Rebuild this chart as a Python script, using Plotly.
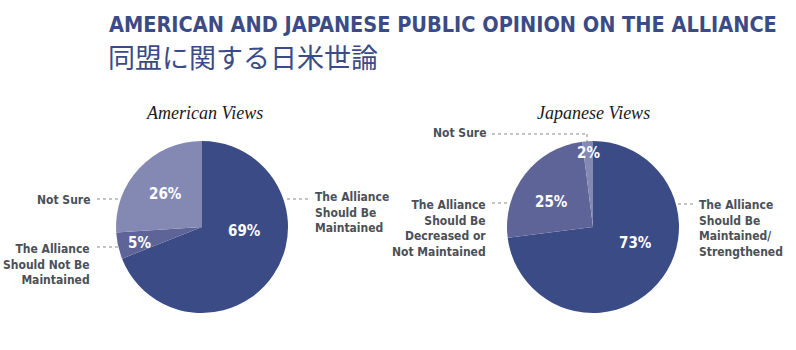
import plotly.graph_objects as go

# Survey results (percent)
us_labels = ["The Alliance Should Be Maintained", "The Alliance Should Not Be Maintained", "Not Sure"]
us_values = [69, 5, 26]
jp_labels = ["The Alliance Should Be Maintained/Strengthened",
             "The Alliance Should Be Decreased or Not Maintained", "Not Sure"]
jp_values = [73, 25, 2]

W, H = 796, 350
DARK = "#3a4b86"
MID = "#5e6497"
LIGHT = "#8489b3"
GRAY = "#4b5057"
LEAD = "#8a8a8a"
COND = "DejaVu Sans Condensed, Roboto Condensed, Liberation Sans Narrow, Roboto, sans-serif"


def px(x):
    return x / W


def py(y):
    return 1 - y / H


fig = go.Figure()

fig.add_trace(go.Pie(
    labels=us_labels, values=us_values, sort=False, direction="clockwise", rotation=0,
    marker=dict(colors=[DARK, MID, LIGHT], line=dict(width=0)),
    textinfo="none", hoverinfo="label+percent", showlegend=False,
    domain=dict(x=[px(116), px(288)], y=[py(313), py(141)]),
))
fig.add_trace(go.Pie(
    labels=jp_labels, values=jp_values, sort=False, direction="clockwise", rotation=0,
    marker=dict(colors=[DARK, MID, LIGHT], line=dict(width=0)),
    textinfo="none", hoverinfo="label+percent", showlegend=False,
    domain=dict(x=[px(507), px(679)], y=[py(313), py(141)]),
))

ann = []


def text(x, y, s, size, color, family, xanchor="center", bold=True, italic=False):
    if bold:
        s = f"<b>{s}</b>"
    if italic:
        s = f"<i>{s}</i>"
    ann.append(dict(x=px(x), y=py(y), xref="paper", yref="paper", text=s, showarrow=False,
                    xanchor=xanchor, yanchor="middle", align=xanchor if xanchor != "center" else "center",
                    font=dict(size=size, color=color, family=family)))


# Headline
text(107, 24, "AMERICAN AND JAPANESE PUBLIC OPINION ON THE ALLIANCE", 21.5, DARK, COND, xanchor="left")
text(106, 57, "同盟に関する日米世論", 27, DARK, "Noto Sans CJK JP", xanchor="left", bold=False)

# Pie subtitles
text(204, 113, "American Views", 18, "#1a1a1a", "Liberation Serif", bold=False, italic=True)
text(593, 113, "Japanese Views", 18, "#1a1a1a", "Liberation Serif", bold=False, italic=True)

# Percentage labels inside slices
us_pct_pos = [(245, 231), (139, 243), (165, 194)]
jp_pct_pos = [(635, 243), (551, 202), (588, 153)]
for v, (x, y) in zip(us_values, us_pct_pos):
    text(x, y, f"{v}%", 15, "white", COND)
for v, (x, y) in zip(jp_values, jp_pct_pos):
    text(x, y, f"{v}%", 15, "white", COND)

# Category callouts
LS = 12
text(313, 212, "The Alliance<br>Should Be<br>Maintained", LS, GRAY, COND, xanchor="left")
text(92, 200, "Not Sure", LS, GRAY, COND, xanchor="right")
text(92, 264, "The Alliance<br>Should Not Be<br>Maintained", LS, GRAY, COND, xanchor="right")
text(488, 133, "Not Sure", LS, GRAY, COND, xanchor="right")
text(488, 228, "The Alliance<br>Should Be<br>Decreased or<br>Not Maintained", LS, GRAY, COND,
     xanchor="right")
text(697, 228, "The Alliance<br>Should Be<br>Maintained/<br>Strengthened", LS, GRAY, COND,
     xanchor="left")

# Dotted leader lines
leaders = [
    [(287, 199), (310, 199)],
    [(97, 199), (120, 199)],
    [(97, 247), (118, 247)],
    [(492, 134), (587, 134), (587, 143)],
    [(492, 203), (510, 203)],
    [(678, 204), (693, 204)],
]
shapes = []
for pts in leaders:
    for (x0, y0), (x1, y1) in zip(pts[:-1], pts[1:]):
        shapes.append(dict(type="line", xref="paper", yref="paper",
                           x0=px(x0), y0=py(y0), x1=px(x1), y1=py(y1),
                           line=dict(color=LEAD, width=1, dash="dot")))

fig.update_layout(
    width=W, height=H, margin=dict(l=0, r=0, t=0, b=0),
    paper_bgcolor="white", plot_bgcolor="white",
    annotations=ann, shapes=shapes,
)

fig.write_html("out.html")
